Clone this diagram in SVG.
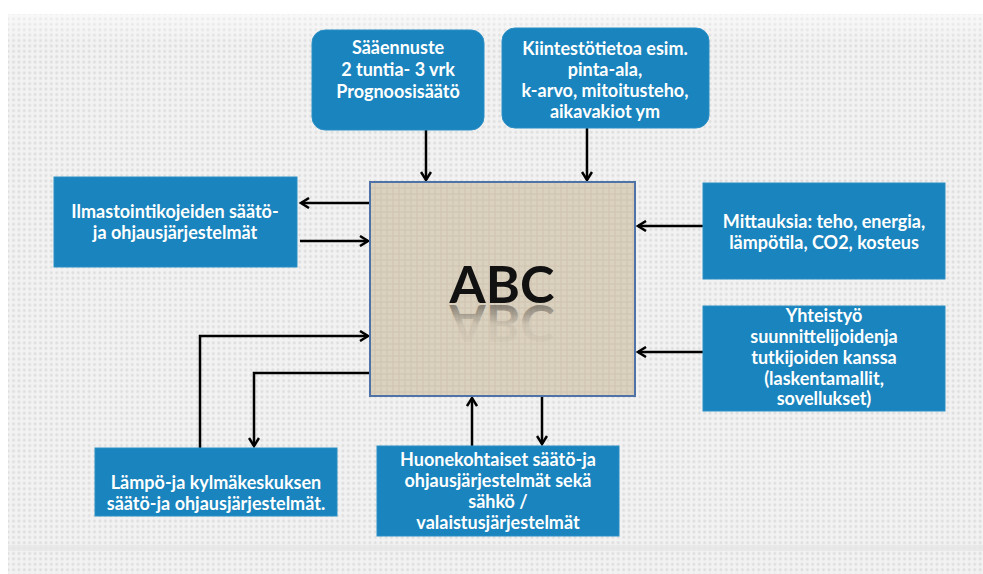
<svg xmlns="http://www.w3.org/2000/svg" width="983" height="574" viewBox="0 0 983 574">
<style>
.box{fill:#1984bd;stroke:#2b8fc6;stroke-width:1}
.t{font-family:Lato,"Open Sans","Liberation Sans",sans-serif;font-weight:bold;font-size:18px;fill:#ffffff;text-anchor:middle}
.c{fill:none;stroke:#000;stroke-width:2.5}
</style>
<defs>
<pattern id="dots" width="5.4" height="5.4" patternUnits="userSpaceOnUse">
<rect width="5.4" height="5.4" fill="#f2f2f2"/>
<circle cx="2.7" cy="2.7" r="1.5" fill="#dedede"/>
</pattern>
<pattern id="weave" width="6" height="6" patternUnits="userSpaceOnUse">
<rect width="6" height="6" fill="#dbd1bf"/>
<path d="M0,2 H6 M3,0 V6" stroke="#cfc4b0" stroke-width="1"/>
</pattern>
<linearGradient id="refl" x1="0" y1="0" x2="0" y2="1">
<stop offset="0" stop-color="#000" stop-opacity="0"/>
<stop offset="0.5" stop-color="#000" stop-opacity="0.05"/>
<stop offset="1" stop-color="#000" stop-opacity="0.55"/>
</linearGradient>
<linearGradient id="topfade" x1="0" y1="0" x2="0" y2="1">
<stop offset="0" stop-color="#fff" stop-opacity="0.5"/>
<stop offset="1" stop-color="#fff" stop-opacity="0"/>
</linearGradient>
<marker id="ah" viewBox="0 0 12 12" refX="10" refY="6" markerWidth="12" markerHeight="12" markerUnits="userSpaceOnUse" orient="auto">
<path d="M2,1 L10,6 L2,11" fill="none" stroke="#000" stroke-width="2.5"/>
</marker>
</defs>
<rect x="0" y="0" width="983" height="574" fill="#ffffff"/>
<rect x="8" y="14" width="975" height="560" fill="url(#dots)"/>
<rect x="8" y="14" width="975" height="30" fill="url(#topfade)"/>
<rect x="8" y="545" width="975" height="6" fill="#e6e6e6" opacity="0.8"/>

<g id="connectors">
<path class="c" d="M426,130 V180" marker-end="url(#ah)"/>
<path class="c" d="M587,128 V180" marker-end="url(#ah)"/>
<path class="c" d="M370,203 H301" marker-end="url(#ah)"/>
<path class="c" d="M300,241 H368" marker-end="url(#ah)"/>
<path class="c" d="M703,226 H638" marker-end="url(#ah)"/>
<path class="c" d="M703,352 H638" marker-end="url(#ah)"/>
<path class="c" d="M200,448 V336 H368" marker-end="url(#ah)"/>
<path class="c" d="M370,373 H254 V446" marker-end="url(#ah)"/>
<path class="c" d="M472,446 V398" marker-end="url(#ah)"/>
<path class="c" d="M542,396 V444" marker-end="url(#ah)"/>
</g>

<g id="abc">
<rect x="370" y="182" width="265" height="214" fill="url(#weave)" stroke="#4f73a6" stroke-width="2"/>
<text x="502" y="303" font-family="Lato,'Open Sans','Liberation Sans',sans-serif" font-weight="bold" font-size="52" fill="#111" text-anchor="middle">ABC</text>
<text x="502" y="-305" transform="scale(1,-1)" font-family="Lato,'Open Sans','Liberation Sans',sans-serif" font-weight="bold" font-size="52" fill="url(#refl)" text-anchor="middle">ABC</text>
</g>

<g id="saaennuste">
<rect class="box" x="312" y="30" width="172" height="100" rx="13"/>
<text class="t" x="398" y="54">Sääennuste</text>
<text class="t" x="398" y="76">2 tuntia- 3 vrk</text>
<text class="t" x="398" y="98">Prognoosisäätö</text>
</g>

<g id="kiintesto">
<rect class="box" x="502" y="28" width="207" height="100" rx="13"/>
<text class="t" x="605" y="55">Kiintestötietoa esim.</text>
<text class="t" x="605" y="76">pinta-ala,</text>
<text class="t" x="605" y="97">k-arvo, mitoitusteho,</text>
<text class="t" x="605" y="118">aikavakiot ym</text>
</g>

<g id="ilmastointi">
<rect class="box" x="54" y="177" width="243" height="90"/>
<text class="t" x="175" y="218">Ilmastointikojeiden säätö-</text>
<text class="t" x="175" y="239">ja ohjausjärjestelmät</text>
</g>

<g id="mittauksia">
<rect class="box" x="703" y="183" width="242" height="96"/>
<text class="t" x="824" y="228">Mittauksia: teho, energia,</text>
<text class="t" x="824" y="249">lämpötila, CO2, kosteus</text>
</g>

<g id="yhteistyo">
<rect class="box" x="703" y="306" width="242" height="105"/>
<text class="t" x="824" y="322">Yhteistyö</text>
<text class="t" x="824" y="343">suunnittelijoidenja</text>
<text class="t" x="824" y="364">tutkijoiden kanssa</text>
<text class="t" x="824" y="385">(laskentamallit,</text>
<text class="t" x="824" y="405">sovellukset)</text>
</g>

<g id="lampo">
<rect class="box" x="95" y="448" width="242" height="68"/>
<text class="t" x="216" y="489">Lämpö-ja kylmäkeskuksen</text>
<text class="t" x="216" y="510">säätö-ja ohjausjärjestelmät.</text>
</g>

<g id="huone">
<rect class="box" x="377" y="446" width="242" height="90"/>
<text class="t" x="498" y="466">Huonekohtaiset säätö-ja</text>
<text class="t" x="498" y="487">ohjausjärjestelmät sekä</text>
<text class="t" x="498" y="508">sähkö /</text>
<text class="t" x="498" y="529">valaistusjärjestelmät</text>
</g>
</svg>
